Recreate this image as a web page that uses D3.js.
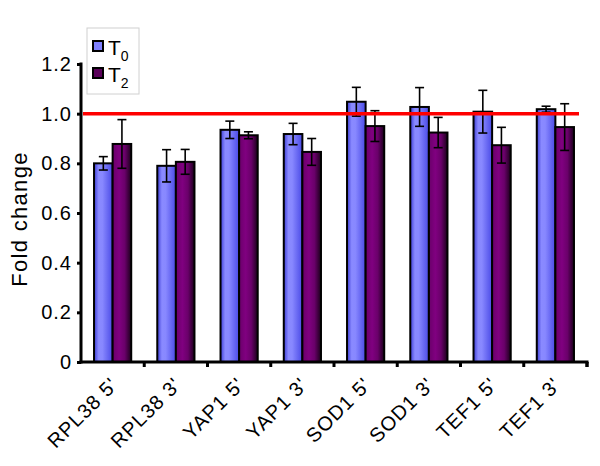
<!DOCTYPE html>
<html>
<head>
<meta charset="utf-8">
<script src="https://cdn.jsdelivr.net/npm/d3@7"></script>
<style>
  body { margin: 0; background: #fff; }
  text { font-family: "Liberation Sans", Arial, sans-serif; }
</style>
</head>
<body>
<div id="my_dataviz"></div>
<script>
// data
var genes = ["RPL38 5'", "RPL38 3'", "YAP1 5'", "YAP1 3'", "SOD1 5'", "SOD1 3'", "TEF1 5'", "TEF1 3'"];
var t0 = [0.80, 0.79, 0.935, 0.918, 1.048, 1.027, 1.008, 1.018];
var t0err = [0.027, 0.065, 0.035, 0.043, 0.058, 0.078, 0.086, 0.012];
var t2 = [0.878, 0.806, 0.913, 0.846, 0.950, 0.924, 0.873, 0.946];
var t2err = [0.098, 0.050, 0.014, 0.054, 0.062, 0.061, 0.072, 0.094];
var yTicks = [0, 0.2, 0.4, 0.6, 0.8, 1.0, 1.2];

// set the dimensions and margins of the graph
var margin = {top: 64, right: 13, bottom: 104, left: 81},
    width = 600 - margin.left - margin.right,
    height = 466 - margin.top - margin.bottom;

var svg = d3.select("#my_dataviz")
  .append("svg")
    .attr("width", 600)
    .attr("height", 466)
  .append("g")
    .attr("transform", "translate(" + margin.left + "," + margin.top + ")");

// gradients for the bars
var defs = svg.append("defs");
var g0 = defs.append("linearGradient").attr("id", "gradT0");
g0.append("stop").attr("offset", "0%").attr("stop-color", "#3c3cd6");
g0.append("stop").attr("offset", "25%").attr("stop-color", "#8a8aff");
g0.append("stop").attr("offset", "45%").attr("stop-color", "#8888ff");
g0.append("stop").attr("offset", "100%").attr("stop-color", "#4a4ae6");
var g2 = defs.append("linearGradient").attr("id", "gradT2");
g2.append("stop").attr("offset", "0%").attr("stop-color", "#6a006a");
g2.append("stop").attr("offset", "35%").attr("stop-color", "#800080");
g2.append("stop").attr("offset", "65%").attr("stop-color", "#6a006a");
g2.append("stop").attr("offset", "100%").attr("stop-color", "#1a001a");

var data = genes.map(function(g, i) {
  return {gene: g, vals: [
    {key: "T0", v: t0[i], e: t0err[i]},
    {key: "T2", v: t2[i], e: t2err[i]}
  ]};
});

// X scales
var x = d3.scaleBand()
  .domain(genes)
  .range([0, width]);
var x1 = d3.scaleBand()
  .domain(["T0", "T2"])
  .range([0, x.bandwidth()])
  .paddingInner(0)
  .paddingOuter(0.7);

// Y scale
var y = d3.scaleLinear()
  .domain([0, 1.2])
  .range([height, 0]);

// Bars
var groups = svg.selectAll(".grp")
  .data(data)
  .enter()
  .append("g")
    .attr("transform", function(d) { return "translate(" + x(d.gene) + ",0)"; });

groups.selectAll("rect")
  .data(function(d) { return d.vals; })
  .enter()
  .append("rect")
    .attr("x", function(d) { return x1(d.key); })
    .attr("y", function(d) { return y(d.v); })
    .attr("width", x1.bandwidth())
    .attr("height", function(d) { return height - y(d.v); })
    .attr("fill", function(d) { return d.key == "T0" ? "url(#gradT0)" : "url(#gradT2)"; })
    .attr("stroke", "#000")
    .attr("stroke-width", 2);

// error bars
var eb = groups.selectAll(".err")
  .data(function(d) { return d.vals; })
  .enter()
  .append("g")
    .attr("stroke", "#000")
    .attr("stroke-width", 1.6);
eb.append("line")
  .attr("x1", function(d) { return x1(d.key) + x1.bandwidth() / 2; })
  .attr("x2", function(d) { return x1(d.key) + x1.bandwidth() / 2; })
  .attr("y1", function(d) { return y(d.v + d.e); })
  .attr("y2", function(d) { return y(d.v - d.e); });
eb.selectAll(".cap")
  .data(function(d) { return [d.v + d.e, d.v - d.e].map(function(v) { return {k: d.key, v: v}; }); })
  .enter()
  .append("line")
    .attr("x1", function(d) { return x1(d.k) + x1.bandwidth() / 2 - 4.5; })
    .attr("x2", function(d) { return x1(d.k) + x1.bandwidth() / 2 + 4.5; })
    .attr("y1", function(d) { return y(d.v); })
    .attr("y2", function(d) { return y(d.v); });

// red reference line at 1.0
svg.append("line")
  .attr("x1", 2)
  .attr("x2", width - 8)
  .attr("y1", y(1))
  .attr("y2", y(1))
  .attr("stroke", "#ff0000")
  .attr("stroke-width", 3.5);

// Y axis
var yAxis = svg.append("g")
  .call(d3.axisLeft(y).tickValues(yTicks).tickSize(4).tickPadding(5)
    .tickFormat(function(d) { return d == 0 ? "0" : d3.format(".1f")(d); }));
yAxis.select(".domain").attr("stroke-width", 3).attr("d", "M0," + (height + 1.5) + "V-1.5");
yAxis.selectAll(".tick line").attr("stroke-width", 3);
yAxis.selectAll("text")
  .style("font-size", "20px")
  .style("letter-spacing", "1px")
  .attr("fill", "#000");

// X axis
var xAxis = svg.append("g")
  .attr("transform", "translate(0," + height + ")")
  .call(d3.axisBottom(x).tickSize(0).tickPadding(0));
xAxis.select(".domain").attr("stroke-width", 3).attr("d", "M-1.5,0H" + (width + 1.5));
xAxis.selectAll(".tick text")
  .attr("transform", "translate(" + (x.bandwidth() / 2 - 30) + ",19)rotate(-45)")
  .attr("dy", "0.35em")
  .style("text-anchor", "end")
  .style("font-size", "20px")
  .style("letter-spacing", "1px")
  .attr("fill", "#000");
xAxis.selectAll(".xt")
  .data(genes.concat(["end"]))
  .enter()
  .append("line")
    .attr("x1", function(d) { return d == "end" ? width : x(d) + x.bandwidth(); })
    .attr("x2", function(d) { return d == "end" ? width : x(d) + x.bandwidth(); })
    .attr("y1", 0)
    .attr("y2", 5)
    .attr("stroke", "#000")
    .attr("stroke-width", 3);

// Y title
svg.append("text")
  .attr("transform", "translate(-54," + (height / 2 + 6) + ")rotate(-90)")
  .style("text-anchor", "middle")
  .style("font-size", "22px")
  .style("letter-spacing", "1.3px")
  .text("Fold change");

// legend
var lg = svg.append("g").attr("transform", "translate(6,-36)");
lg.append("rect")
  .attr("width", 52)
  .attr("height", 66)
  .attr("fill", "#fff")
  .attr("stroke", "#d0d0d0");
var items = [{fill: "url(#gradT0)", sub: "0"}, {fill: "url(#gradT2)", sub: "2"}];
items.forEach(function(it, i) {
  lg.append("rect")
    .attr("x", 6)
    .attr("y", 13 + i * 27)
    .attr("width", 10)
    .attr("height", 10)
    .attr("fill", i == 0 ? "#8080ff" : "#5a005a")
    .attr("stroke", "#000")
    .attr("stroke-width", 2);
  var t = lg.append("text")
    .attr("x", 21)
    .attr("y", 27 + i * 27)
    .style("font-size", "21px")
    .text("T");
  t.append("tspan")
    .attr("dy", 6)
    .style("font-size", "14px")
    .text(it.sub);
});
</script>
</body>
</html>
